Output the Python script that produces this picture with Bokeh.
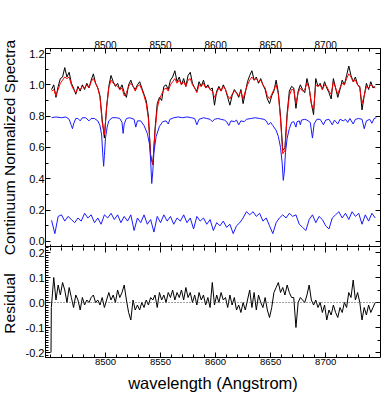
import numpy as np
from bokeh.plotting import figure
from bokeh.layouts import column, row
from bokeh.core.properties import value
from bokeh.models import (Range1d, LinearAxis, SingleIntervalTicker, FixedTicker,
                          PrintfTickFormatter, CustomJSTickFormatter, Span, Spacer)
from bokeh.embed import file_html
from bokeh.resources import INLINE

# ---------------- data ----------------
# observed spectrum / model fit, sampled every 2 A from 8451 to 8745
wave = list(range(8451, 8746, 2))
obs_flux = [
    0.97, 1.00, 0.92, 0.99, 1.04, 1.05, 1.11, 1.05, 1.08, 1.01,
    0.98, 0.94, 0.99, 0.96, 1.00, 0.97, 1.01, 0.98, 1.03, 1.07,
    1.01, 0.98, 0.93, 0.78, 0.66, 0.86, 0.99, 1.06, 1.02, 0.99,
    1.01, 0.97, 1.00, 0.95, 0.92, 1.00, 1.03, 0.99, 0.97, 1.00,
    1.02, 0.98, 0.94, 0.90, 0.80, 0.55, 0.49, 0.72, 0.88, 0.92,
    0.90, 0.99, 1.00, 0.97, 1.03, 1.05, 1.09, 1.02, 1.05, 1.00,
    1.04, 0.99, 1.06, 1.08, 1.01, 0.98, 0.96, 1.02, 0.99, 1.03,
    0.98, 1.00, 0.97, 0.98, 0.87, 0.96, 0.99, 0.96, 1.00, 0.97,
    0.92, 0.87, 0.93, 0.97, 0.95, 0.92, 0.97, 0.88, 0.95, 1.02,
    1.06, 1.09, 1.03, 1.05, 1.01, 1.04, 1.00, 0.97, 0.91, 0.88,
    0.93, 0.96, 1.03, 0.95, 0.80, 0.58, 0.60, 0.82, 0.96, 0.99,
    0.98, 0.85, 0.96, 1.00, 0.97, 0.95, 1.04, 0.98, 0.88, 0.81,
    1.04, 0.99, 1.01, 0.97, 1.02, 0.98, 0.95, 0.91, 1.04, 0.98,
    0.92, 0.97, 1.03, 1.00, 1.06, 1.12, 1.06, 1.02, 1.05, 1.00,
    0.99, 0.84, 0.93, 1.01, 0.97, 1.02, 0.98, 0.99]
model_flux = [
    0.96, 0.97, 0.93, 0.97, 1.01, 1.03, 1.05, 1.04, 1.05, 1.00,
    0.97, 0.95, 0.98, 0.97, 0.99, 0.98, 1.00, 0.98, 1.02, 1.04,
    1.01, 0.98, 0.92, 0.76, 0.68, 0.85, 0.98, 1.03, 1.01, 1.00,
    0.99, 0.97, 0.98, 0.93, 0.95, 0.99, 1.01, 0.99, 0.96, 0.99,
    1.00, 0.97, 0.93, 0.88, 0.78, 0.55, 0.49, 0.70, 0.85, 0.91,
    0.94, 0.97, 0.98, 0.96, 1.00, 1.02, 1.04, 1.01, 1.03, 1.00,
    1.02, 0.99, 1.03, 1.04, 1.00, 0.98, 0.95, 1.00, 0.99, 1.01,
    0.98, 0.99, 0.97, 0.96, 0.92, 0.95, 0.98, 0.96, 0.99, 0.97,
    0.93, 0.91, 0.94, 0.96, 0.95, 0.93, 0.96, 0.91, 0.96, 1.00,
    1.03, 1.05, 1.03, 1.04, 1.02, 1.03, 1.00, 0.98, 0.93, 0.91,
    0.94, 0.97, 1.00, 0.94, 0.78, 0.56, 0.58, 0.80, 0.93, 0.97,
    0.97, 0.88, 0.95, 0.98, 0.96, 0.97, 1.01, 0.98, 0.88, 0.84,
    1.00, 0.99, 1.00, 0.97, 1.00, 0.99, 0.96, 0.94, 1.02, 0.98,
    0.94, 0.98, 1.01, 1.00, 1.04, 1.07, 1.05, 1.02, 1.03, 1.00,
    0.98, 0.88, 0.93, 0.99, 0.98, 1.00, 0.99, 0.98]

# template spectrum (offset, blue, upper)
tmpl_wave = [
    8451, 8455, 8460, 8464, 8467, 8469, 8470, 8471, 8473, 8475,
    8477, 8479, 8482, 8485, 8487, 8490, 8493, 8495, 8496.5, 8497.5,
    8498.3, 8499, 8500, 8501.5, 8503, 8506, 8510, 8513, 8515, 8516,
    8517, 8519, 8522, 8526, 8527.5, 8529, 8532, 8535, 8538, 8540,
    8541, 8542, 8543, 8544, 8546, 8549, 8552, 8555, 8557, 8558.5,
    8562, 8566, 8570, 8574, 8578, 8581, 8583, 8585, 8589, 8592,
    8595, 8597, 8599, 8602, 8605, 8608, 8610, 8612, 8614, 8617,
    8619, 8621, 8623, 8626, 8628, 8632, 8636, 8640, 8644, 8646,
    8648, 8650, 8652, 8655, 8657, 8659, 8660.5, 8661.5, 8662.5, 8663.5,
    8665, 8667, 8669, 8671, 8673, 8674, 8676, 8677, 8678, 8681,
    8683, 8686, 8688, 8689.5, 8692, 8695, 8698, 8700, 8703, 8706,
    8708, 8711, 8713, 8716, 8718, 8720, 8722, 8725, 8727, 8730,
    8733, 8735, 8737, 8740, 8742, 8744, 8746]
tmpl_flux = [
    0.79, 0.795, 0.79, 0.795, 0.78, 0.74, 0.72, 0.75, 0.785, 0.785,
    0.77, 0.79, 0.79, 0.77, 0.785, 0.785, 0.77, 0.74, 0.68, 0.56,
    0.48, 0.55, 0.66, 0.73, 0.77, 0.79, 0.79, 0.785, 0.76, 0.69,
    0.75, 0.785, 0.79, 0.78, 0.73, 0.77, 0.77, 0.74, 0.69, 0.62,
    0.52, 0.37, 0.45, 0.57, 0.67, 0.735, 0.765, 0.77, 0.75, 0.78,
    0.79, 0.795, 0.79, 0.795, 0.79, 0.785, 0.745, 0.78, 0.79, 0.785,
    0.78, 0.765, 0.78, 0.785, 0.78, 0.775, 0.765, 0.74, 0.77, 0.765,
    0.775, 0.745, 0.77, 0.765, 0.78, 0.785, 0.79, 0.785, 0.78, 0.77,
    0.745, 0.76, 0.74, 0.71, 0.67, 0.60, 0.50, 0.39, 0.45, 0.57,
    0.66, 0.72, 0.76, 0.765, 0.73, 0.765, 0.77, 0.745, 0.775, 0.78,
    0.775, 0.76, 0.66, 0.75, 0.78, 0.78, 0.745, 0.775, 0.78, 0.745,
    0.775, 0.75, 0.78, 0.77, 0.78, 0.76, 0.785, 0.75, 0.78, 0.785,
    0.78, 0.72, 0.77, 0.78, 0.755, 0.785, 0.79]

# second (lower) blue spectrum, every 3 A
low_wave = list(range(8451, 8746, 3))
low_flux = [
    0.135, 0.05, 0.16, 0.17, 0.13, 0.16, 0.14, 0.12, 0.15, 0.13,
    0.18, 0.15, 0.17, 0.12, 0.15, 0.11, 0.17, 0.15, 0.18, 0.14,
    0.17, 0.12, 0.16, 0.13, 0.17, 0.07, 0.15, 0.12, 0.17, 0.11,
    0.14, 0.06, 0.16, 0.12, 0.17, 0.13, 0.16, 0.11, 0.15, 0.13,
    0.17, 0.12, 0.15, 0.08, 0.16, 0.13, 0.15, 0.11, 0.14, 0.07,
    0.12, 0.10, 0.13, 0.09, 0.11, 0.05, 0.10, 0.12, 0.15, 0.19,
    0.17, 0.19, 0.16, 0.18, 0.13, 0.15, 0.10, 0.05, 0.12, 0.15,
    0.17, 0.15, 0.18, 0.16, 0.17, 0.11, 0.09, 0.07, 0.14, 0.17,
    0.12, 0.16, 0.14, 0.10, 0.08, 0.15, 0.17, 0.19, 0.15, 0.18,
    0.14, 0.19, 0.16, 0.18, 0.11, 0.17, 0.13, 0.18, 0.15]

# residual
res_wave = [8450.5, 8450.8] + list(range(8453, 8746, 2))
res_flux = [
    -0.20, -0.02,
    0.10, 0.01, 0.07, 0.03, 0.08, 0.05, 0.00, 0.06, 0.02, -0.02,
    0.03, 0.01, -0.03, 0.02, -0.01, 0.01, 0.00, 0.02, 0.03, 0.00,
    0.01, -0.01, 0.02, -0.02, 0.01, 0.04, 0.01, 0.03, 0.00, 0.05,
    0.02, 0.04, 0.07, 0.01, -0.04, -0.07, 0.01, -0.03, -0.01, -0.03,
    0.00, -0.02, 0.01, -0.01, 0.02, 0.01, 0.03, -0.02, 0.04, 0.01,
    0.03, 0.00, 0.04, 0.02, 0.05, 0.01, 0.04, 0.02, 0.05, 0.01,
    0.06, 0.02, 0.04, 0.00, 0.03, -0.01, 0.04, 0.01, 0.03, -0.01,
    0.02, -0.02, 0.08, -0.01, 0.03, 0.00, 0.04, 0.01, 0.02, -0.02,
    0.03, -0.01, 0.02, -0.03, -0.01, -0.04, 0.00, -0.03, 0.01, 0.05,
    -0.02, 0.04, -0.03, 0.03, 0.00, -0.02, 0.02, -0.03, -0.06, -0.02,
    0.04, 0.06, 0.08, 0.04, 0.06, 0.03, 0.07, 0.04, 0.02, 0.02,
    -0.10, 0.00, 0.02, 0.01, 0.00, 0.03, 0.07, 0.01, -0.01, 0.01,
    -0.02, 0.00, -0.04, -0.01, -0.07, -0.03, -0.05, -0.01, -0.04, -0.06,
    -0.02, -0.04, 0.00, -0.02, 0.04, 0.02, 0.09, 0.01, 0.04, 0.00,
    -0.07, -0.02, -0.05, -0.01, -0.04, -0.02, 0.00]

# axes ranges, ticks and labels
x_limits = (8445.5, 8749.8)
top_limits = (-0.0385, 1.232)
bot_limits = (-0.22, 0.22)
x_major = [8500, 8550, 8600, 8650, 8700]
x_minor = list(range(8450, 8751, 10))
x_title = "wavelength (Angstrom)"
top_title = "Continuum Normalized Spectra"
bot_title = "Residual"

# ---------------- styling / layout ----------------
FONT = "Liberation Sans"
SIDE_W = 22          # strip holding the rotated y titles
W = 382 - SIDE_W
LEFT, RIGHT = 21, 2
TOP_PAD = 37
H1, H2 = 210, 147


def base_axis(ax, tick_in=5, minor_in=3):
    ax.major_tick_in = tick_in
    ax.major_tick_out = 0
    ax.minor_tick_in = minor_in
    ax.minor_tick_out = 0
    ax.axis_line_color = "black"
    ax.major_tick_line_color = "black"
    ax.minor_tick_line_color = "black"
    ax.major_label_text_font = FONT
    ax.major_label_text_color = "black"
    return ax


def labeled(ax, size, standoff, fmt=None):
    base_axis(ax)
    if fmt is not None:
        ax.formatter = PrintfTickFormatter(format=fmt)
    ax.major_label_text_font_size = size
    ax.major_label_standoff = standoff
    return ax


def blank(ax, size="10px"):
    base_axis(ax)
    ax.formatter = CustomJSTickFormatter(code="return ''")
    ax.major_label_text_font_size = size
    ax.major_label_standoff = 0
    return ax


def xticker():
    return FixedTicker(ticks=x_major, minor_ticks=x_minor)


# ---------------- top panel ----------------
p1 = figure(width=W, height=H1, x_range=Range1d(*x_limits),
            y_range=Range1d(*top_limits), x_axis_location=None,
            y_axis_location=None, toolbar_location=None,
            output_backend="svg", min_border_left=LEFT,
            min_border_right=RIGHT, min_border_top=0, min_border_bottom=0)
p1.grid.visible = False
p1.outline_line_color = "black"
p1.background_fill_color = "white"
p1.border_fill_color = "white"

p1.add_layout(labeled(LinearAxis(ticker=xticker()), "10px", 0), "above")
p1.add_layout(blank(LinearAxis(ticker=xticker()), "1px"), "below")
p1.add_layout(labeled(LinearAxis(
    ticker=SingleIntervalTicker(interval=0.2, num_minor_ticks=2)),
    "11px", 1, "%.1f"), "left")
p1.add_layout(blank(LinearAxis(
    ticker=SingleIntervalTicker(interval=0.2, num_minor_ticks=2))), "right")

p1.line(wave, obs_flux, line_color="black", line_width=1)
p1.line(wave, model_flux, line_color="#ff0000", line_width=1)
p1.line(tmpl_wave, tmpl_flux, line_color="#1a1aff", line_width=1)
p1.line(low_wave, low_flux, line_color="#1a1aff", line_width=1)

# ---------------- bottom panel ----------------
p2 = figure(width=W, height=H2, x_range=Range1d(*x_limits),
            y_range=Range1d(*bot_limits), x_axis_location=None,
            y_axis_location=None, toolbar_location=None,
            output_backend="svg", min_border_left=LEFT,
            min_border_right=RIGHT, min_border_top=0, min_border_bottom=0)
p2.grid.visible = False
p2.outline_line_color = None
p2.background_fill_color = "white"
p2.border_fill_color = "white"

bx = labeled(LinearAxis(ticker=xticker()), "9.5px", 1)
bx.axis_label = x_title
bx.axis_label_text_font = FONT
bx.axis_label_text_font_size = "16.5px"
bx.axis_label_text_font_style = "normal"
bx.axis_label_text_color = "black"
bx.axis_label_standoff = 6
p2.add_layout(bx, "below")
tx = blank(LinearAxis(ticker=xticker()), "1px")
tx.axis_line_color = None
p2.add_layout(tx, "above")
p2.add_layout(labeled(LinearAxis(
    ticker=SingleIntervalTicker(interval=0.1, num_minor_ticks=10)),
    "11px", 1, "%.1f"), "left")
p2.add_layout(blank(LinearAxis(
    ticker=SingleIntervalTicker(interval=0.1, num_minor_ticks=2))), "right")

p2.add_layout(Span(location=0, dimension="width", line_color="#444444",
                   line_dash="1 2", line_width=1))
p2.line(res_wave, res_flux, line_color="black", line_width=1)

# ---------------- strip with the rotated y titles ----------------
total_h = TOP_PAD + H1 + H2
side = figure(width=SIDE_W, height=total_h, x_range=Range1d(0, SIDE_W),
              y_range=Range1d(0, total_h), x_axis_location=None,
              y_axis_location=None, toolbar_location=None,
              output_backend="svg", min_border=0)
side.grid.visible = False
side.outline_line_color = None
side.background_fill_color = "white"
side.border_fill_color = "white"
# titles centred on each panel's frame
title_y = [total_h - 147, total_h - 303]
side.text(x=[0, 0], y=title_y, text=[top_title, bot_title], angle=np.pi / 2,
          text_align="center", text_baseline="top", text_font=value(FONT),
          text_font_size=value("15.5px"), text_color="black")

layout = row(side, column(Spacer(width=W, height=TOP_PAD), p1, p2, spacing=0),
             spacing=0)

open("out.html", "w").write(file_html(layout, INLINE))
